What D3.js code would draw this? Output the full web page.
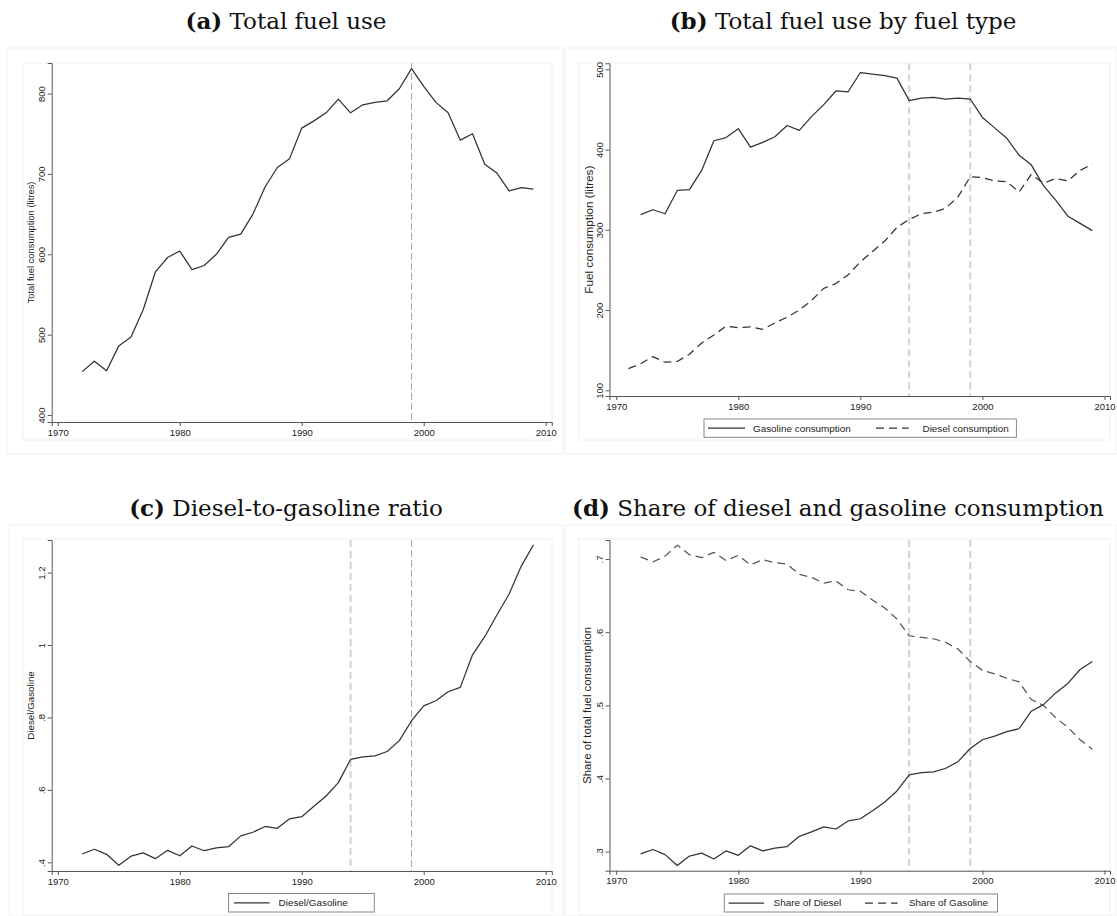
<!DOCTYPE html>
<html>
<head>
<meta charset="utf-8">
<script src="https://cdn.jsdelivr.net/npm/d3@7"></script>
<style>
  html, body { margin: 0; padding: 0; background: #fff; }
  svg { display: block; }
  .tick text, .lbl { font-family: "Liberation Sans", Arial, Helvetica, sans-serif; fill: #222; }
  .ttl { font-family: "DejaVu Serif", "Liberation Serif", serif; fill: #111; }
</style>
</head>
<body>
<svg id="chart" width="1117" height="916"></svg>
<script>
// ---- Data ---------------------------------------------------------------
const years = [1972, 1973, 1974, 1975, 1976, 1977, 1978, 1979, 1980, 1981,
               1982, 1983, 1984, 1985, 1986, 1987, 1988, 1989, 1990, 1991,
               1992, 1993, 1994, 1995, 1996, 1997, 1998, 1999, 2000, 2001,
               2002, 2003, 2004, 2005, 2006, 2007, 2008, 2009];
const dieselYears = [1971, 1972, 1973, 1974, 1975, 1976, 1977, 1978, 1979, 1980,
                     1981, 1982, 1983, 1984, 1985, 1986, 1987, 1988, 1989, 1990,
                     1991, 1992, 1993, 1994, 1995, 1996, 1997, 1998, 1999, 2000,
                     2001, 2002, 2003, 2004, 2005, 2006, 2007, 2008, 2009];

// Total fuel consumption (litres)
const totalFuel = [454, 467, 455, 486, 497, 531, 578, 596, 604, 581,
                   586, 600, 621, 625, 650, 684, 708, 719, 757, 766,
                   776, 793, 776, 786, 789, 791, 806, 831, 809, 789,
                   776, 742, 750, 712, 701, 679, 683, 681];

// Fuel consumption by type (litres)
const gasolineUse = [319, 325, 320, 349, 350, 374, 411, 415, 426, 403,
                     409, 416, 430, 424, 441, 456, 473, 472, 496, 494,
                     492, 489, 461, 464, 465, 463, 464, 463, 440, 427,
                     414, 393, 381, 355, 337, 317, 308, 299];
const dieselUse = [127, 133, 142, 135, 136, 145, 159, 169, 180, 178,
                   179, 176, 184, 191, 200, 212, 227, 233, 244, 260,
                   273, 286, 303, 313, 320, 322, 327, 341, 366, 365,
                   361, 360, 347, 369, 358, 364, 361, 374, 382];

// Diesel-to-gasoline ratio
const dieselGasRatio = [0.423, 0.436, 0.422, 0.392, 0.417, 0.426, 0.410, 0.433, 0.418, 0.445,
                        0.432, 0.440, 0.443, 0.473, 0.483, 0.499, 0.494, 0.520, 0.526, 0.555,
                        0.583, 0.620, 0.684, 0.691, 0.694, 0.706, 0.736, 0.791, 0.832, 0.846,
                        0.871, 0.883, 0.973, 1.023, 1.083, 1.141, 1.218, 1.277];

// Shares of total fuel consumption
const dieselShare = [0.297, 0.303, 0.296, 0.281, 0.294, 0.298, 0.290, 0.301, 0.295, 0.308,
                     0.301, 0.305, 0.307, 0.321, 0.327, 0.334, 0.331, 0.342, 0.345, 0.356,
                     0.368, 0.383, 0.405, 0.408, 0.409, 0.414, 0.423, 0.441, 0.453, 0.458,
                     0.464, 0.468, 0.492, 0.501, 0.517, 0.530, 0.549, 0.560];
const gasolineShare = [0.703, 0.696, 0.704, 0.719, 0.706, 0.702, 0.709, 0.698, 0.705, 0.692,
                       0.699, 0.695, 0.693, 0.679, 0.675, 0.667, 0.670, 0.658, 0.656, 0.644,
                       0.633, 0.618, 0.595, 0.593, 0.591, 0.586, 0.577, 0.560, 0.548, 0.543,
                       0.537, 0.532, 0.508, 0.500, 0.483, 0.470, 0.453, 0.440];

// Axis ticks and reference years
const xTicks = [1970, 1980, 1990, 2000, 2010];
const ticksA = [400, 500, 600, 700, 800];
const ticksB = [100, 200, 300, 400, 500];
const ticksC = [0.4, 0.6, 0.8, 1, 1.2];
const ticksD = [0.3, 0.4, 0.5, 0.6, 0.7];
const refYears = [1994, 1999];

// ---- Drawing ------------------------------------------------------------
const svg = d3.select("#chart");
const FONT = '"Liberation Sans", Arial, Helvetica, sans-serif';
const LINE = "#333";
const AXIS = "#555";

// Stata-style labels: drop the leading zero of fractions
const stataFmt = v => {
  let s = String(+v.toFixed(2));
  return s.startsWith("0.") ? s.slice(1) : s;
};

function zip(xs, ys) { return xs.map((x, i) => [x, ys[i]]); }

function panel(cfg) {
  const g = svg.append("g");

  // faint graph-region and plot-region frames
  g.append("rect").attr("x", cfg.outer[0]).attr("y", cfg.outer[1])
    .attr("width", cfg.outer[2] - cfg.outer[0]).attr("height", cfg.outer[3] - cfg.outer[1])
    .attr("fill", "#fff").attr("stroke", "#f1f1f1");
  g.append("rect").attr("x", cfg.inner[0]).attr("y", cfg.inner[1])
    .attr("width", cfg.inner[2] - cfg.inner[0]).attr("height", cfg.inner[3] - cfg.inner[1])
    .attr("fill", "#fff").attr("stroke", "#f0f0f0");

  const x = d3.scaleLinear().domain(cfg.xDomain).range(cfg.xRange);
  const y = d3.scaleLinear().domain(cfg.yDomain).range(cfg.yRange);

  // reference lines
  cfg.vlines.forEach(v => {
    g.append("line")
      .attr("x1", x(v.year)).attr("x2", x(v.year))
      .attr("y1", cfg.yRange[1]).attr("y2", cfg.yRange[0])
      .attr("stroke", v.color).attr("stroke-width", v.width)
      .attr("stroke-dasharray", v.dash);
  });

  // series
  const line = d3.line().x(d => x(d[0])).y(d => y(d[1]));
  cfg.series.forEach(s => {
    g.append("path").datum(s.data)
      .attr("d", line).attr("fill", "none")
      .attr("stroke", s.color || LINE).attr("stroke-width", 1.25)
      .attr("stroke-linejoin", "round")
      .attr("stroke-dasharray", s.dash || null);
  });

  // x axis
  const xa = g.append("g").attr("transform", `translate(0,${cfg.yRange[0]})`)
    .call(d3.axisBottom(x).tickValues(xTicks).tickSize(4).tickPadding(3).tickFormat(d3.format("d")));
  xa.select(".domain").attr("stroke", AXIS);
  xa.selectAll(".tick line").attr("stroke", AXIS);
  xa.selectAll(".tick text").attr("font-family", FONT).attr("font-size", cfg.tickSize).attr("fill", "#222");

  // y axis with vertical tick labels
  const ya = g.append("g").attr("transform", `translate(${cfg.xRange[0]},0)`)
    .call(d3.axisLeft(y).tickValues(cfg.yTicks).tickSize(4).tickFormat(cfg.yFmt));
  ya.select(".domain").attr("stroke", AXIS);
  ya.selectAll(".tick line").attr("stroke", AXIS);
  ya.selectAll(".tick text")
    .attr("transform", "rotate(-90)")
    .attr("x", 0).attr("y", -7).attr("dy", 0)
    .attr("text-anchor", "middle")
    .attr("font-family", FONT).attr("font-size", cfg.tickSize).attr("fill", "#222");

  // y axis title
  const ymid = (cfg.yRange[0] + cfg.yRange[1]) / 2;
  g.append("text").attr("class", "lbl")
    .attr("transform", `translate(${cfg.yTitleX},${ymid}) rotate(-90)`)
    .attr("text-anchor", "middle").attr("font-size", cfg.yTitleSize)
    .text(cfg.yTitle);

  // legend
  if (cfg.legend) {
    const L = cfg.legend;
    g.append("rect").attr("x", L.box[0]).attr("y", L.box[1])
      .attr("width", L.box[2] - L.box[0]).attr("height", L.box[3] - L.box[1])
      .attr("fill", "#fff").attr("stroke", "#888").attr("stroke-width", 1);
    const cy = (L.box[1] + L.box[3]) / 2;
    L.items.forEach(it => {
      g.append("line").attr("x1", it.x0).attr("x2", it.x1).attr("y1", cy).attr("y2", cy)
        .attr("stroke", LINE).attr("stroke-width", 1.25)
        .attr("stroke-dasharray", it.dash || null);
      g.append("text").attr("class", "lbl").attr("x", it.tx).attr("y", cy)
        .attr("dy", "0.35em").attr("font-size", L.size).text(it.label);
    });
  }

  // panel caption
  const t = svg.append("text").attr("class", "ttl")
    .attr("x", cfg.title.x).attr("y", cfg.title.y)
    .attr("text-anchor", "middle").attr("font-size", 23);
  t.append("tspan").attr("font-weight", "bold").text(cfg.title.tag);
  t.append("tspan").text(" " + cfg.title.text);
}

const lightRef = { color: "#d2d2d2", width: 2, dash: "7,4" };
const thinRef = { color: "#a8a8a8", width: 1, dash: "7,3" };

// (a) Total fuel use
panel({
  outer: [7, 48, 563, 454], inner: [23, 63, 552, 440],
  xDomain: [1969.5, 2010.5], xRange: [51.7, 551.8],
  yDomain: [391.3, 838], yRange: [422, 63],
  yTicks: ticksA, yFmt: d3.format("d"), tickSize: 9.5,
  yTitle: "Total fuel consumption (litres)", yTitleX: 33.5, yTitleSize: 9.4,
  vlines: [Object.assign({ year: refYears[1] }, thinRef)],
  series: [{ data: zip(years, totalFuel) }],
  title: { x: 286, y: 29, tag: "(a)", text: "Total fuel use" }
});

// (b) Total fuel use by fuel type
panel({
  outer: [565, 48, 1117, 454], inner: [579, 63, 1110, 440],
  xDomain: [1969.45, 2010.45], xRange: [609.5, 1110],
  yDomain: [92.9, 507.5], yRange: [396, 63.3],
  yTicks: ticksB, yFmt: d3.format("d"), tickSize: 9.5,
  yTitle: "Fuel consumption (litres)", yTitleX: 592.5, yTitleSize: 11.7,
  vlines: refYears.map(yr => Object.assign({ year: yr }, lightRef)),
  series: [
    { data: zip(years, gasolineUse) },
    { data: zip(dieselYears, dieselUse), dash: "8,5" }
  ],
  legend: {
    box: [704, 419, 1016.4, 437.3], size: 9.9,
    items: [
      { x0: 708, x1: 745, tx: 753, label: "Gasoline consumption" },
      { x0: 876, x1: 908.6, tx: 922.5, label: "Diesel consumption", dash: "8,5" }
    ]
  },
  title: { x: 843, y: 29, tag: "(b)", text: "Total fuel use by fuel type" }
});

// (c) Diesel-to-gasoline ratio
panel({
  outer: [9, 525, 563, 916], inner: [23, 539, 552, 915],
  xDomain: [1969.5, 2010.5], xRange: [51.7, 551.8],
  yDomain: [0.376, 1.290], yRange: [871, 540],
  yTicks: ticksC, yFmt: stataFmt, tickSize: 9.5,
  yTitle: "Diesel/Gasoline", yTitleX: 33.5, yTitleSize: 9.8,
  vlines: [Object.assign({ year: refYears[0] }, lightRef),
           Object.assign({ year: refYears[1] }, thinRef)],
  series: [{ data: zip(years, dieselGasRatio) }],
  legend: {
    box: [228.6, 893.5, 374.3, 912], size: 9.9,
    items: [{ x0: 234, x1: 269.6, tx: 278.6, label: "Diesel/Gasoline" }]
  },
  title: { x: 286, y: 516, tag: "(c)", text: "Diesel-to-gasoline ratio" }
});

// (d) Share of diesel and gasoline consumption
panel({
  outer: [565, 525, 1117, 916], inner: [579, 539, 1110, 915],
  xDomain: [1969.45, 2010.45], xRange: [609.5, 1110],
  yDomain: [0.274, 0.726], yRange: [870.7, 540],
  yTicks: ticksD, yFmt: stataFmt, tickSize: 9.5,
  yTitle: "Share of total fuel consumption", yTitleX: 591, yTitleSize: 11.4,
  vlines: refYears.map(yr => Object.assign({ year: yr }, lightRef)),
  series: [
    { data: zip(years, dieselShare) },
    { data: zip(years, gasolineShare), dash: "8,5", color: "#555" }
  ],
  legend: {
    box: [724.3, 894, 997.5, 912], size: 9.9,
    items: [
      { x0: 728.6, x1: 764, tx: 773.6, label: "Share of Diesel" },
      { x0: 865, x1: 897.5, tx: 909, label: "Share of Gasoline", dash: "8,5" }
    ]
  },
  title: { x: 838, y: 516, tag: "(d)", text: "Share of diesel and gasoline consumption" }
});
</script>
</body>
</html>
